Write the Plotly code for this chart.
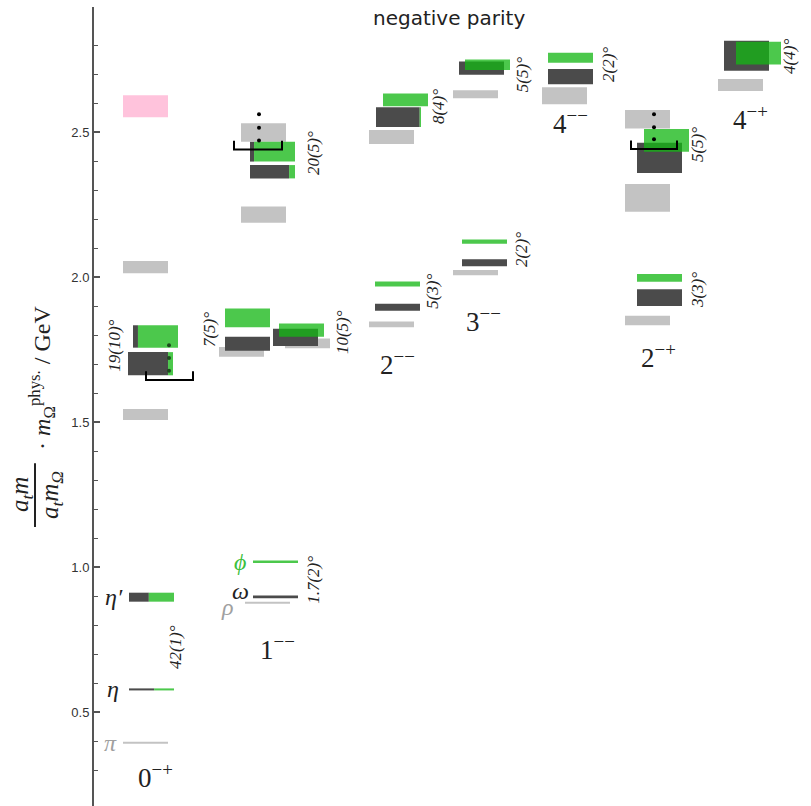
import plotly.graph_objects as go

# ---------------- data (GeV) ----------------
jpc_labels = ["0<sup>−+</sup>", "1<sup>−−</sup>", "2<sup>−−</sup>", "3<sup>−−</sup>",
              "4<sup>−−</sup>", "2<sup>−+</sup>", "4<sup>−+</sup>"]

# light-grey levels (isovector)
grey_mass = [0.395, 1.527, 2.035,
             0.878, 1.743, 1.772, 2.216, 2.499,
             1.838, 2.484,
             2.016, 2.631,
             2.626,
             1.851, 2.274, 2.545,
             2.663]
grey_err = [0.0035, 0.019, 0.021,
            0.0035, 0.017, 0.017, 0.028, 0.032,
            0.010, 0.024,
            0.009, 0.014,
            0.029,
            0.016, 0.048, 0.032,
            0.021]

# pink level (0-+)
pink_mass = [2.59]
pink_err = [0.038]

# isoscalar levels: mass, error, light-quark fraction
iso_mass = [0.579, 0.897, 1.702, 1.796,
            0.898, 1.019, 1.771, 1.860, 1.793, 1.818, 2.364, 2.433,
            1.897, 1.977, 2.552, 2.612,
            2.050, 2.123, 2.721, 2.733,
            2.692, 2.757,
            1.930, 1.998, 2.412, 2.472,
            2.764, 2.773]
iso_err = [0.0035, 0.0155, 0.040, 0.0386,
           0.0045, 0.0045, 0.024, 0.032, 0.030, 0.023, 0.023, 0.034,
           0.012, 0.0086, 0.034, 0.022,
           0.012, 0.007, 0.023, 0.018,
           0.026, 0.017,
           0.029, 0.013, 0.052, 0.039,
           0.052, 0.039]
iso_light = [0.56, 0.44, 0.89, 0.11,
             1.0, 0.0, 1.0, 0.0, 1.0, 0.0, 0.87, 0.09,
             1.0, 0.0, 0.97, 0.0,
             1.0, 0.0, 1.0, 0.0,
             1.0, 0.0,
             1.0, 0.0, 1.0, 0.0,
             1.0, 0.0]

# mixing angles
angle_text = ["42(1)°", "19(10)°", "7(5)°", "1.7(2)°", "10(5)°", "20(5)°",
              "5(3)°", "8(4)°", "2(2)°", "5(5)°", "2(2)°", "3(3)°", "5(5)°", "4(4)°"]
angle_mass = [0.725, 1.764, 1.818, 0.957, 1.811, 2.429,
              1.950, 2.587, 2.094, 2.697, 2.732, 1.956, 2.456, 2.760]

# thresholds (brackets) and dotted continuation
thr_mass = [1.646, 2.441, 2.442]
dots_mass = [[1.766, 1.722, 1.678], [2.562, 2.516, 2.472], [2.562, 2.517, 2.476]]

state_names = ["π", "η", "η′", "ρ", "ω", "ϕ"]
state_mass = [0.395, 0.579, 0.897, 0.862, 0.918, 1.019]

# ---------------- layout positions (x in plot units) ----------------
W = 45
grey_x = [123, 123, 123,
          245, 219, 285, 241, 241,
          369, 369,
          453, 453,
          542,
          625, 625, 625,
          718]
pink_x = [123]
iso_x = [129, 129, 128, 133,
         253, 253, 225, 225, 273, 279, 250, 250,
         375, 375, 376, 383,
         462, 462, 459, 465,
         548, 548,
         637, 637, 637, 644,
         724, 736]
angle_x = [175, 115, 209, 314, 342, 314, 433, 438, 521, 522, 608, 697, 697, 790]
jpc_x = [155, 277, 397, 483, 570, 658, 750]
jpc_y = [0.280, 0.722, 1.705, 1.853, 2.536, 1.729, 2.550]
thr_x = [(146, 193), (234, 282), (631, 677)]
dots_x = [169, 259, 654]
dots_col = ["#1d4a1d", "black", "black"]
state_x = [110, 113, 114, 227, 240, 240]
state_col = ["#a0a0a0", "#222", "#222", "#a0a0a0", "#222", "#3cc03c"]

GREY = "#c3c3c3"
DARK = "#4b4b4b"
GREEN = "rgba(20,183,20,0.76)"
PINK = "#ffc3dc"

fig = go.Figure()
shapes = []


def rect(x0, x1, m, e, col):
    shapes.append(dict(type="rect", xref="x", yref="y", x0=x0, x1=x1,
                       y0=m - e, y1=m + e, fillcolor=col, line=dict(width=0),
                       layer="below"))


for m, e, x in zip(grey_mass, grey_err, grey_x):
    rect(x, x + W, m, e, GREY)
for m, e, x in zip(pink_mass, pink_err, pink_x):
    rect(x, x + W, m, e, PINK)
for m, e, f, x in zip(iso_mass, iso_err, iso_light, iso_x):
    if f > 0:
        rect(x, x + f * W, m, e, DARK)
for m, e, f, x in zip(iso_mass, iso_err, iso_light, iso_x):
    if f < 1:
        rect(x + f * W, x + W, m, e, GREEN)

# thresholds brackets
for (x0, x1), t in zip(thr_x, thr_mass):
    fig.add_trace(go.Scatter(x=[x0, x0, x1, x1], y=[t + 0.03, t, t, t + 0.03],
                             mode="lines", line=dict(color="black", width=2),
                             hoverinfo="skip", showlegend=False))
for x, ds, c in zip(dots_x, dots_mass, dots_col):
    fig.add_trace(go.Scatter(x=[x] * len(ds), y=ds, mode="markers",
                             marker=dict(color=c, size=4), hoverinfo="skip",
                             showlegend=False))

ann = []
serif = "Liberation Serif"
for t, m, x in zip(angle_text, angle_mass, angle_x):
    ann.append(dict(x=x, y=m, xref="x", yref="y", text="<i>" + t + "</i>",
                    textangle=-90, showarrow=False, xanchor="center", yanchor="middle",
                    font=dict(family=serif, size=17, color="#222")))
for t, x, y in zip(jpc_labels, jpc_x, jpc_y):
    ann.append(dict(x=x, y=y, xref="x", yref="y", text=t, showarrow=False,
                    xanchor="center", yanchor="middle",
                    font=dict(family=serif, size=27, color="#222")))
for t, m, x, c in zip(state_names, state_mass, state_x, state_col):
    ann.append(dict(x=x, y=m, xref="x", yref="y", text="<i>" + t + "</i>", showarrow=False,
                    xanchor="center", yanchor="middle",
                    font=dict(family=serif, size=24, color=c)))

# title
ann.append(dict(x=449, y=2.894, xref="x", yref="y", text="negative parity",
                showarrow=False, xanchor="center", yanchor="middle",
                font=dict(family="DejaVu Sans", size=20, color="#222")))


def px2paper(px):
    return (px - 94) / 717.0


# y-axis title (fraction)
ann.append(dict(x=px2paper(21), y=1.249, xref="paper", yref="y",
                text="<i>a<sub>t</sub>m</i>", textangle=-90, showarrow=False,
                xanchor="center", yanchor="middle",
                font=dict(family=serif, size=25, color="#222")))
ann.append(dict(x=px2paper(51), y=1.249, xref="paper", yref="y",
                text="<i>a<sub>t</sub>m<sub>Ω</sub></i>", textangle=-90, showarrow=False,
                xanchor="center", yanchor="middle",
                font=dict(family=serif, size=25, color="#222")))
ann.append(dict(x=px2paper(42), y=1.653, xref="paper", yref="y",
                text="· <i>m</i><sub>Ω</sub><sup>phys.</sup> / GeV", textangle=-90,
                showarrow=False, xanchor="center", yanchor="middle",
                font=dict(family=serif, size=24, color="#222")))
shapes.append(dict(type="line", xref="paper", yref="y", x0=px2paper(35), x1=px2paper(35),
                   y0=1.139, y1=1.359, line=dict(color="#222", width=2)))

major = [0.5, 1.0, 1.5, 2.0, 2.5]
minor_vals = [round(0.3 + 0.1 * i, 2) for i in range(26)]
minor_vals = [v for v in minor_vals if all(abs(v - mj) > 1e-6 for mj in major)]

fig.update_layout(
    width=811, height=806,
    margin=dict(l=94, r=0, t=7, b=0),
    paper_bgcolor="white", plot_bgcolor="white",
    shapes=shapes, annotations=ann,
    xaxis=dict(range=[94, 811], visible=False, showgrid=False, zeroline=False),
    yaxis=dict(range=[0.177, 2.932], showgrid=False, zeroline=False,
               showline=True, linecolor="#555", linewidth=2,
               ticks="inside", ticklen=6, tickwidth=1.5, tickcolor="#555",
               tickmode="array", tickvals=major,
               ticktext=["0.5", "1.0", "1.5", "2.0", "2.5"],
               tickfont=dict(family="Liberation Sans", size=13, color="#333"),
               minor=dict(tickmode="array", tickvals=minor_vals, ticks="inside",
                          ticklen=4, tickwidth=1.2, tickcolor="#555")),
    showlegend=False,
)

fig.write_html("out.html")
